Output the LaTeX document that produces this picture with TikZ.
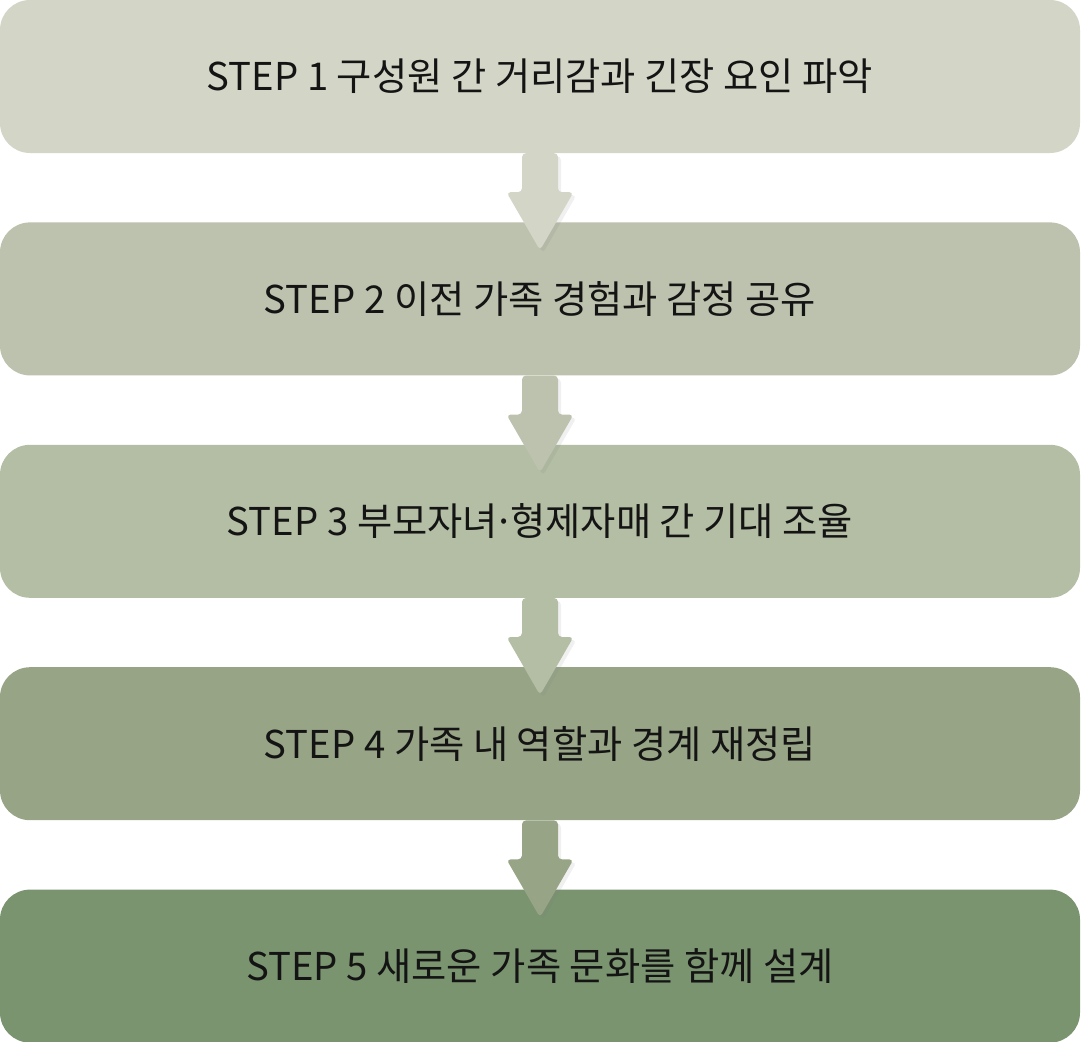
\documentclass[tikz,border=0pt]{standalone}
\usepackage{fontspec}
\setmainfont{Noto Sans CJK KR}
\usepackage{tikz}
\usetikzlibrary{calc,positioning,shadows}

\definecolor{stepA}{HTML}{D3D5C6}
\definecolor{stepB}{HTML}{BCC2AD}
\definecolor{stepC}{HTML}{B3BEA4}
\definecolor{stepD}{HTML}{97A586}
\definecolor{stepE}{HTML}{7A9470}
\definecolor{ink}{HTML}{141414}

\begin{document}
\begin{tikzpicture}[
    x=1bp, y=1bp,
    font=\fontsize{38.3bp}{46bp}\selectfont,
    stepbox/.style={rectangle, rounded corners=30bp, minimum width=1080bp,
        minimum height=153bp, inner sep=0pt, text=ink},
    flow/.style={fill=#1, rounded corners=4bp,
        drop shadow={opacity=0.12, shadow xshift=3bp, shadow yshift=-3bp}}
]

\useasboundingbox (0,0) rectangle (1081,-1042);

% the five steps
\node[stepbox, fill=stepA] (s1) at (540,-76.5) {STEP 1 구성원 간 거리감과 긴장 요인 파악};
\node[stepbox, fill=stepB, below=69bp of s1] (s2) {STEP 2 이전 가족 경험과 감정 공유};
\node[stepbox, fill=stepC, below=69bp of s2] (s3) {STEP 3 부모자녀\kern-0.12em·\kern-0.12em 형제자매 간 기대 조율};
\node[stepbox, fill=stepD, below=69bp of s3] (s4) {STEP 4 가족 내 역할과 경계 재정립};
\node[stepbox, fill=stepE, below=69bp of s4] (s5) {STEP 5 새로운 가족 문화를 함께 설계};

% arrows between steps
\foreach \a/\b/\c in {s1/s2/stepA, s2/s3/stepB, s3/s4/stepC, s4/s5/stepD} {
    \fill[flow=\c] ($(\a.south)+(-18,0)$) -- ($(\a.south)+(18,0)$)
        -- ($(\b.north)+(18,30)$) -- ($(\b.north)+(33.5,30)$)
        -- ($(\b.north)+(0,-28)$)
        -- ($(\b.north)+(-33.5,30)$) -- ($(\b.north)+(-18,30)$) -- cycle;
}

\end{tikzpicture}
\end{document}
